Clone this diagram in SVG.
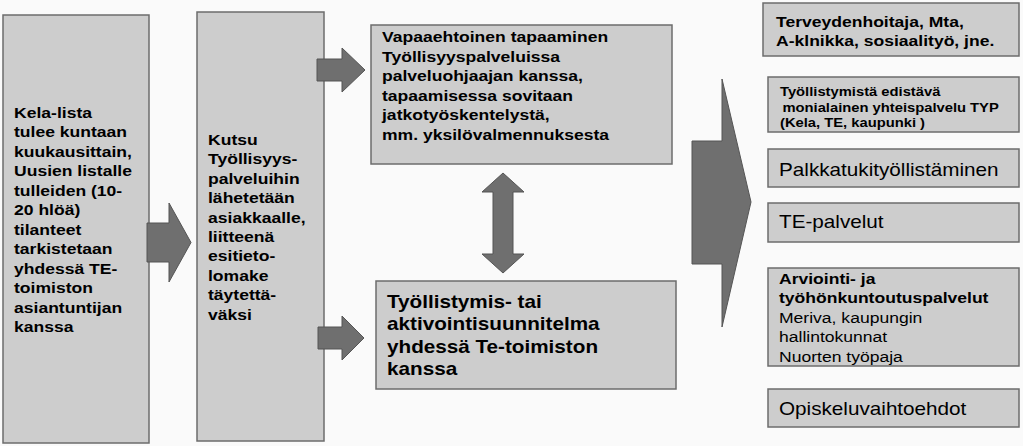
<svg xmlns="http://www.w3.org/2000/svg" width="1023" height="446" viewBox="0 0 1023 446">
<style>
.bg{fill:#fafafa}
.box{fill:#cdcdcd;stroke:#6c6c6c;stroke-width:1.5}
.arr{fill:#6f6f6f;stroke:#555;stroke-width:1}
text{font-family:"Liberation Sans",Arial,sans-serif;fill:#000}
.b15{font-size:15px;font-weight:bold}
.b18{font-size:18px;font-weight:bold}
.b12{font-size:12px;font-weight:bold}
.r18{font-size:18px}
.r15{font-size:15px}
</style>
<rect class="bg" x="0" y="0" width="1023" height="446"/>
<g id="kela">
<rect class="box" x="3" y="15" width="146" height="428"/>
<g transform="translate(14,0) scale(1.17,1)">
<text class="b15"><tspan x="0" y="118">Kela-lista</tspan><tspan x="0" y="137.5">tulee kuntaan</tspan><tspan x="0" y="157">kuukausittain,</tspan><tspan x="0" y="176.5">Uusien listalle</tspan><tspan x="0" y="196">tulleiden (10-</tspan><tspan x="0" y="215.5">20 hlöä)</tspan><tspan x="0" y="235">tilanteet</tspan><tspan x="0" y="254.5">tarkistetaan</tspan><tspan x="0" y="274">yhdessä TE-</tspan><tspan x="0" y="293.5">toimiston</tspan><tspan x="0" y="313">asiantuntijan</tspan><tspan x="0" y="332.5">kanssa</tspan></text>
</g>
</g>
<g id="kutsu">
<rect class="box" x="197" y="12" width="127" height="429"/>
<g transform="translate(208,0) scale(1.17,1)">
<text class="b15"><tspan x="0" y="145">Kutsu</tspan><tspan x="0" y="164.4">Työllisyys-</tspan><tspan x="0" y="183.8">palveluihin</tspan><tspan x="0" y="203.2">lähetetään</tspan><tspan x="0" y="222.6">asiakkaalle,</tspan><tspan x="0" y="242">liitteenä</tspan><tspan x="0" y="261.4">esitieto-</tspan><tspan x="0" y="280.8">lomake</tspan><tspan x="0" y="300.2">täytettä-</tspan><tspan x="0" y="319.6">väksi</tspan></text>
</g>
</g>
<g id="tapaaminen">
<rect class="box" x="371" y="25" width="301" height="139"/>
<g transform="translate(382,0) scale(1.17,1)">
<text class="b15"><tspan x="0" y="42">Vapaaehtoinen tapaaminen</tspan><tspan x="0" y="61.6">Työllisyyspalveluissa</tspan><tspan x="0" y="81.2">palveluohjaajan kanssa,</tspan><tspan x="0" y="100.8">tapaamisessa sovitaan</tspan><tspan x="0" y="120.4">jatkotyöskentelystä,</tspan><tspan x="0" y="140">mm. yksilövalmennuksesta</tspan></text>
</g>
</g>
<g id="suunnitelma">
<rect class="box" x="376" y="281" width="300" height="108"/>
<g transform="translate(387,0) scale(1.15,1)">
<text class="b18"><tspan x="0" y="308">Työllistymis- tai</tspan><tspan x="0" y="330.5">aktivointisuunnitelma</tspan><tspan x="0" y="353">yhdessä Te-toimiston</tspan><tspan x="0" y="375.5">kanssa</tspan></text>
</g>
</g>
<g id="terveys">
<rect class="box" x="763" y="3" width="256" height="53"/>
<g transform="translate(776,0) scale(1.17,1)">
<text class="b15"><tspan x="0" y="26.7">Terveydenhoitaja, Mta,</tspan><tspan x="0" y="45.7">A-klnikka, sosiaalityö, jne.</tspan></text>
</g>
</g>
<g id="typ">
<rect class="box" x="768" y="77" width="251" height="55"/>
<g transform="translate(780,0) scale(1.23,1)">
<text class="b12"><tspan x="0" y="96">Työllistymistä edistävä</tspan><tspan x="2" y="112">monialainen yhteispalvelu TYP</tspan><tspan x="0" y="127.5">(Kela, TE, kaupunki )</tspan></text>
</g>
</g>
<g id="palkkatuki">
<rect class="box" x="768" y="149" width="251" height="38"/>
<g transform="translate(779,0) scale(1.15,1)"><text class="r18" x="0" y="176">Palkkatukityöllistäminen</text></g>
</g>
<g id="tepalvelut">
<rect class="box" x="768" y="203" width="251" height="39"/>
<g transform="translate(779,0) scale(1.15,1)"><text class="r18" x="0" y="228.5">TE-palvelut</text></g>
</g>
<g id="arviointi">
<rect class="box" x="768" y="268" width="251" height="98"/>
<g transform="translate(779,0) scale(1.17,1)">
<text class="b15"><tspan x="0" y="284.5">Arviointi- ja</tspan><tspan x="0" y="303.5">työhönkuntoutuspalvelut</tspan></text>
<text class="r15"><tspan x="0" y="323">Meriva, kaupungin</tspan><tspan x="0" y="342.5">hallintokunnat</tspan><tspan x="0" y="362">Nuorten työpaja</tspan></text>
</g>
</g>
<g id="opiskelu">
<rect class="box" x="768" y="389" width="251" height="38"/>
<g transform="translate(779,0) scale(1.15,1)"><text class="r18" x="0" y="415">Opiskeluvaihtoehdot</text></g>
</g>
<g id="connectors">
<polygon class="arr" points="147,223 169,223 169,203 191,242.5 169,282 169,262 147,262"/>
<polygon class="arr" points="317,59 342,59 342,48 365,70 342,92 342,81 317,81"/>
<polygon class="arr" points="318,327 342,327 342,316 364,338 342,360 342,349 318,349"/>
<polygon class="arr" points="503,173 524,192 513,192 513,254 524,254 503,273 482,254 493,254 493,192 482,192"/>
<polygon class="arr" points="692,141 722,141 722,79 751,202 722,327 722,264 692,264"/>
</g>
</svg>
